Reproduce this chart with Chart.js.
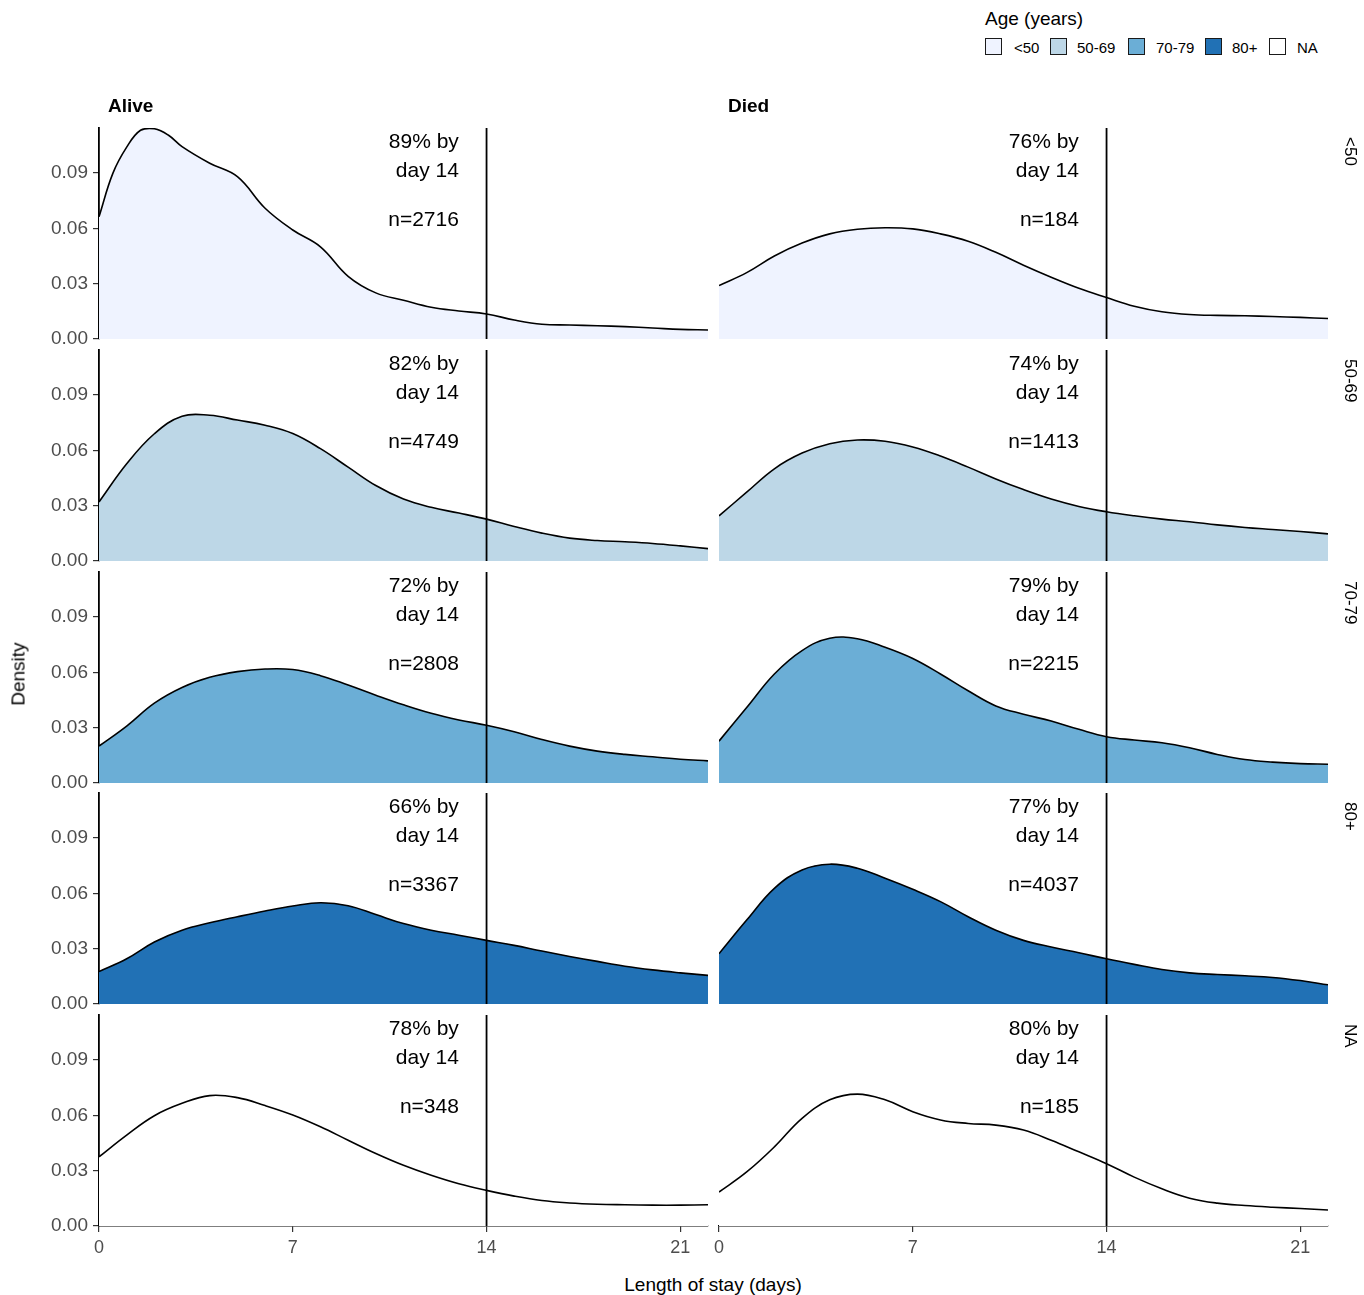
<!DOCTYPE html>
<html>
<head>
<meta charset="utf-8">
<script src="https://cdn.jsdelivr.net/npm/chart.js@4.4.1/dist/chart.umd.min.js"></script>
<style>
  html, body { margin: 0; padding: 0; background: #fff; }
  #wrap {
    position: relative;
    width: 1364px;
    height: 1295px;
    font-family: "Liberation Sans", Arial, Helvetica, sans-serif;
    color: #000;
  }
  #wrap canvas { position: absolute; }
  .txt { position: absolute; white-space: nowrap; line-height: 1; }
  .strip { font-weight: bold; font-size: 19px; transform: translateY(-50%); }
  .rowstrip { font-size: 17px; writing-mode: vertical-rl; transform: translateX(-50%); }
  .key { position: absolute; width: 15px; height: 15px; border: 1.5px solid #1a1a1a; top: 38px; }
  .keylab { font-size: 15px; transform: translateY(-50%); top: 47px; }
</style>
</head>
<body>
<div id="wrap"></div>
<script>
// ---- data ----
const OUTCOMES = ["Alive", "Died"];
const AGE_GROUPS = ["<50", "50-69", "70-79", "80+", "NA"];
const AGE_COLORS = ["#EFF3FF", "#BDD7E7", "#6BAED6", "#2171B5", "#FFFFFF"];

const X_TICKS = [0, 7, 14, 21];
const Y_TICKS = [0, 0.03, 0.06, 0.09];

const DAYS = [0, 1, 2, 3, 4, 5, 6, 7, 8, 9, 10, 11, 12, 13, 14, 15, 16, 17, 18, 19, 20, 21, 22];
const DAYS_ALIVE_U50 = [0, 0.5, 1, 1.5, 2, 2.5, 3, 4, 5, 6, 7, 8, 9, 10, 11, 12, 13, 14, 15, 16, 17, 18, 19, 20, 21, 22];

const ALIVE_U50 = [0.0663, 0.0898, 0.1040, 0.1132, 0.1140, 0.1106, 0.1043, 0.0953, 0.0880, 0.0709, 0.0591, 0.0500, 0.0340, 0.0250, 0.0210, 0.0172, 0.0152, 0.0136, 0.0103, 0.0080, 0.0076, 0.0072, 0.0067, 0.0060, 0.0052, 0.0049];
const ALIVE_50_69 = [0.0320, 0.0527, 0.0690, 0.0785, 0.0790, 0.0764, 0.0736, 0.0691, 0.0609, 0.0509, 0.0409, 0.0336, 0.0291, 0.0260, 0.0227, 0.0187, 0.0151, 0.0124, 0.0111, 0.0104, 0.0095, 0.0082, 0.0067];
const ALIVE_70_79 = [0.0200, 0.0309, 0.0433, 0.0518, 0.0573, 0.0604, 0.0618, 0.0615, 0.0582, 0.0531, 0.0476, 0.0424, 0.0378, 0.0342, 0.0313, 0.0278, 0.0236, 0.0200, 0.0173, 0.0155, 0.0142, 0.0129, 0.0120];
const ALIVE_80 = [0.0176, 0.0245, 0.0336, 0.0400, 0.0440, 0.0473, 0.0504, 0.0531, 0.0549, 0.0533, 0.0485, 0.0436, 0.0400, 0.0373, 0.0345, 0.0318, 0.0287, 0.0258, 0.0231, 0.0205, 0.0185, 0.0169, 0.0155];
const ALIVE_NA = [0.0375, 0.0493, 0.0598, 0.0665, 0.0707, 0.0696, 0.0653, 0.0602, 0.0538, 0.0465, 0.0393, 0.0329, 0.0275, 0.0229, 0.0193, 0.0162, 0.0138, 0.0125, 0.0118, 0.0115, 0.0113, 0.0113, 0.0115];

const DIED_U50 = [0.0290, 0.0360, 0.0450, 0.0520, 0.0570, 0.0595, 0.0603, 0.0597, 0.0570, 0.0530, 0.0470, 0.0400, 0.0335, 0.0275, 0.0225, 0.0178, 0.0148, 0.0133, 0.0128, 0.0126, 0.0122, 0.0117, 0.0111];
const DIED_50_69 = [0.0245, 0.0373, 0.0500, 0.0585, 0.0636, 0.0656, 0.0649, 0.0618, 0.0569, 0.0509, 0.0445, 0.0387, 0.0336, 0.0296, 0.0267, 0.0245, 0.0227, 0.0213, 0.0196, 0.0182, 0.0171, 0.0160, 0.0147];
const DIED_70_79 = [0.0227, 0.0409, 0.0591, 0.0718, 0.0785, 0.0782, 0.0736, 0.0675, 0.0591, 0.0500, 0.0418, 0.0373, 0.0336, 0.0291, 0.0251, 0.0233, 0.0218, 0.0191, 0.0155, 0.0127, 0.0113, 0.0105, 0.0102];
const DIED_80 = [0.0273, 0.0455, 0.0627, 0.0727, 0.0758, 0.0736, 0.0682, 0.0622, 0.0555, 0.0473, 0.0400, 0.0345, 0.0309, 0.0278, 0.0245, 0.0215, 0.0187, 0.0169, 0.0160, 0.0153, 0.0144, 0.0127, 0.0104];
const DIED_NA = [0.0184, 0.0293, 0.0429, 0.0584, 0.0684, 0.0715, 0.0684, 0.0620, 0.0575, 0.0556, 0.0547, 0.0520, 0.0465, 0.0402, 0.0338, 0.0265, 0.0202, 0.0151, 0.0124, 0.0111, 0.0102, 0.0095, 0.0087];

const PCT_BY_DAY14 = [[89, 76], [82, 74], [72, 79], [66, 77], [78, 80]];
const N_COUNTS = [[2716, 184], [4749, 1413], [2808, 2215], [3367, 4037], [348, 185]];

// [row][col] -> {days, values}
const PANELS = [
  [{ days: DAYS_ALIVE_U50, values: ALIVE_U50 }, { days: DAYS, values: DIED_U50 }],
  [{ days: DAYS, values: ALIVE_50_69 }, { days: DAYS, values: DIED_50_69 }],
  [{ days: DAYS, values: ALIVE_70_79 }, { days: DAYS, values: DIED_70_79 }],
  [{ days: DAYS, values: ALIVE_80 }, { days: DAYS, values: DIED_80 }],
  [{ days: DAYS, values: ALIVE_NA }, { days: DAYS, values: DIED_NA }],
];

// ---- layout ----
const FONT = '"Liberation Sans", Arial, Helvetica, sans-serif';
const X_MAX = 22;
const Y_MAX = 0.1144;
const CUTOFF_DAY = 14;
const LABEL_DAY = 13;
const PANEL_LEFT = [99, 719];
const PANEL_W = 609;
const PANEL_TOP0 = 128;
const PANEL_STEP = 221.75;
const PANEL_H = 211;
const PAD = 20;
const XAXIS_H = 44;
const TEXT_OFFSETS = [14, 43.5, 92.5];

const wrap = document.getElementById("wrap");

function addText(html, cls, style) {
  const d = document.createElement("div");
  d.className = "txt " + (cls || "");
  d.innerHTML = html;
  Object.assign(d.style, style);
  wrap.appendChild(d);
  return d;
}

const panelText = {
  id: "panelText",
  afterDatasetsDraw(chart, args, opts) {
    const { ctx, chartArea, scales } = chart;
    const x = scales.x.getPixelForValue(LABEL_DAY);
    ctx.save();
    ctx.font = "21px " + FONT;
    ctx.fillStyle = "#000";
    ctx.textAlign = "right";
    ctx.textBaseline = "middle";
    opts.lines.forEach((t, i) => ctx.fillText(t, x, chartArea.top + TEXT_OFFSETS[i]));
    ctx.restore();
  },
};

function makePanel(r, c) {
  const isLeft = c === 0;
  const isBottom = r === AGE_GROUPS.length - 1;
  const top = Math.round(PANEL_TOP0 + r * PANEL_STEP);
  const canvasLeft = isLeft ? 0 : PANEL_LEFT[1] - PAD;
  const width = isLeft ? PANEL_LEFT[0] + PANEL_W + 4 : PAD + PANEL_W + 4;
  const height = PAD + PANEL_H + (isBottom ? XAXIS_H : PAD);

  const canvas = document.createElement("canvas");
  canvas.width = width;
  canvas.height = height;
  canvas.style.left = canvasLeft + "px";
  canvas.style.top = top - PAD + "px";
  canvas.style.width = width + "px";
  canvas.style.height = height + "px";
  wrap.appendChild(canvas);

  const panel = PANELS[r][c];
  const points = panel.days.map((d, i) => ({ x: d, y: panel.values[i] }));

  const xScale = {
    type: "linear",
    min: 0,
    max: X_MAX,
    display: isBottom,
    afterBuildTicks: (s) => { s.ticks = X_TICKS.map((v) => ({ value: v })); },
    ticks: {
      font: { family: FONT, size: 18 },
      color: "#4d4d4d",
      padding: 5,
      maxRotation: 0,
      autoSkip: false,
    },
    grid: { drawOnChartArea: false, drawTicks: true, tickLength: 6, color: "#333", lineWidth: 1.2 },
    border: { display: true, color: "#000", width: 1.6 },
  };
  if (isBottom) xScale.afterFit = (s) => { s.height = XAXIS_H; };

  const yScale = {
    type: "linear",
    min: 0,
    max: Y_MAX,
    display: isLeft,
    afterBuildTicks: (s) => { s.ticks = Y_TICKS.map((v) => ({ value: v })); },
    ticks: {
      font: { family: FONT, size: 19 },
      color: "#4d4d4d",
      padding: 5,
      callback: (v) => Number(v).toFixed(2),
    },
    grid: { drawOnChartArea: false, drawTicks: true, tickLength: 6, color: "#333", lineWidth: 1.2 },
    border: { display: true, color: "#000", width: 1.8 },
  };
  if (isLeft) yScale.afterFit = (s) => { s.width = PANEL_LEFT[0]; };

  return new Chart(canvas.getContext("2d"), {
    type: "line",
    data: {
      datasets: [
        {
          data: [{ x: CUTOFF_DAY, y: 0 }, { x: CUTOFF_DAY, y: Y_MAX }],
          borderColor: "#000",
          borderWidth: 1.8,
          pointRadius: 0,
          fill: false,
          order: 0,
        },
        {
          data: points,
          borderColor: "#000",
          borderWidth: 1.6,
          backgroundColor: AGE_COLORS[r],
          fill: "origin",
          pointRadius: 0,
          tension: 0.4,
          order: 1,
        },
      ],
    },
    options: {
      responsive: false,
      animation: false,
      devicePixelRatio: 1,
      layout: {
        padding: { top: PAD, bottom: isBottom ? 0 : PAD, left: isLeft ? 0 : PAD, right: 4 },
      },
      scales: { x: xScale, y: yScale },
      plugins: {
        legend: { display: false },
        tooltip: { enabled: false },
        panelText: {
          lines: [PCT_BY_DAY14[r][c] + "% by", "day 14", "n=" + N_COUNTS[r][c]],
        },
      },
    },
    plugins: [panelText],
  });
}

for (let r = 0; r < AGE_GROUPS.length; r++) {
  for (let c = 0; c < OUTCOMES.length; c++) makePanel(r, c);
}

// facet strips
OUTCOMES.forEach((name, c) => {
  addText(name, "strip", { left: PANEL_LEFT[c] + 9 + "px", top: "105px" });
});
AGE_GROUPS.forEach((name, r) => {
  const top = Math.round(PANEL_TOP0 + r * PANEL_STEP);
  addText(name, "rowstrip", { left: "1350px", top: top + 9 + "px" });
});

// axis titles
addText("Density", "", {
  left: "18px", top: "674px", fontSize: "19px",
  transform: "translate(-50%, -50%) rotate(-90deg)",
});
addText("Length of stay (days)", "", {
  left: "713px", top: "1284px", fontSize: "19px",
  transform: "translate(-50%, -50%)",
});

// legend
addText("Age (years)", "", { left: "985px", top: "18px", fontSize: "19px", transform: "translateY(-50%)" });
const KEY_X = [985, 1050, 1128, 1205, 1269];
const KEY_LABEL_X = [1014, 1077, 1156, 1232, 1297];
AGE_GROUPS.forEach((name, i) => {
  const k = document.createElement("div");
  k.className = "key";
  k.style.left = KEY_X[i] + "px";
  k.style.background = AGE_COLORS[i];
  wrap.appendChild(k);
  addText(name.replace("<", "&lt;"), "keylab", { left: KEY_LABEL_X[i] + "px" });
});
</script>
</body>
</html>
